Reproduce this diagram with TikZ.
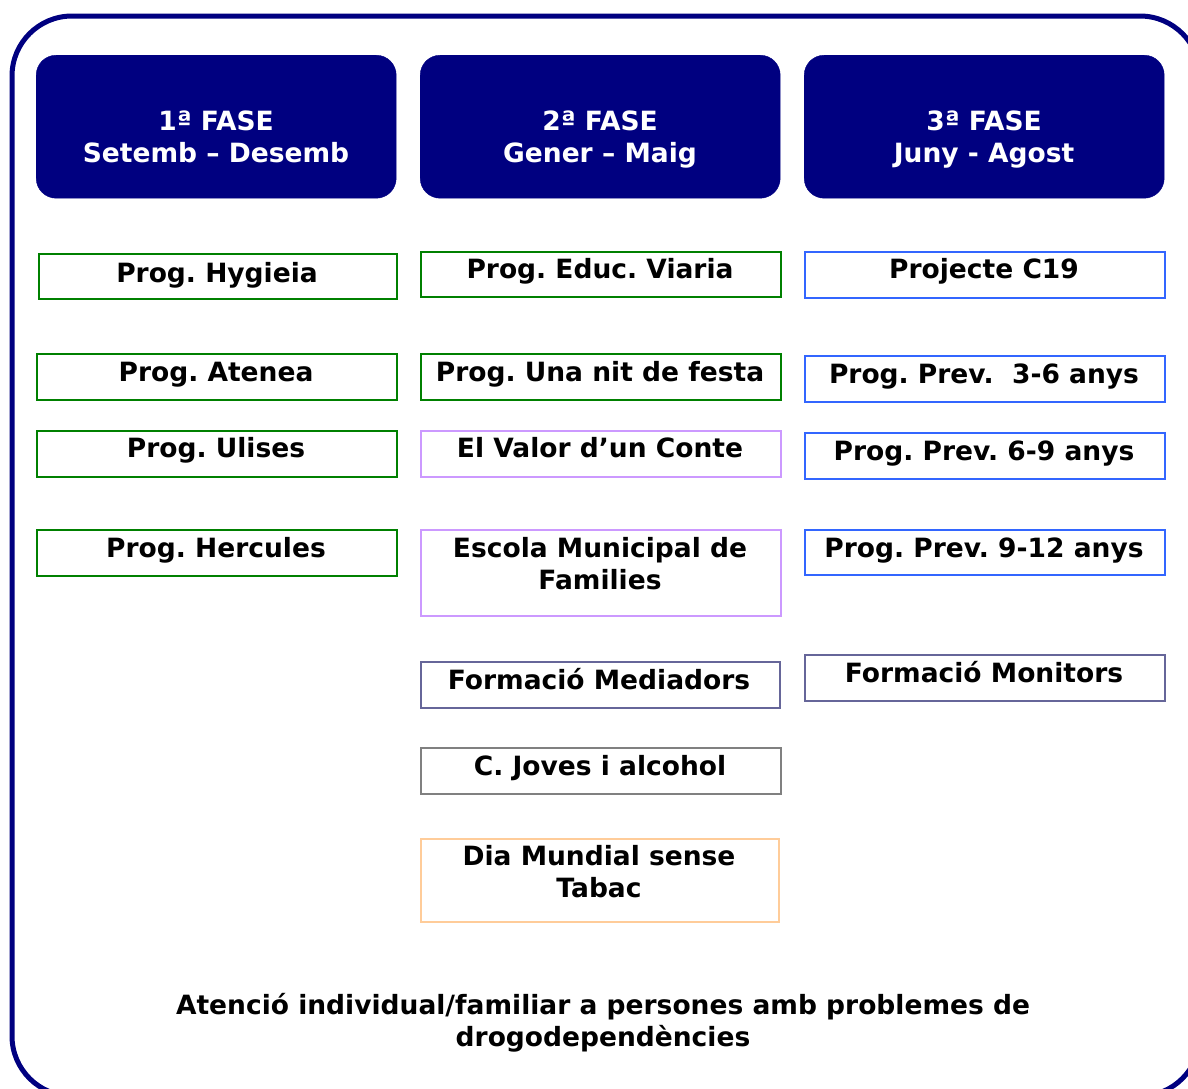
\documentclass[tikz,border=0pt]{standalone}
\usepackage{fontspec}
\setmainfont{DejaVu Sans}
\frenchspacing
\definecolor{navyc}{RGB}{0,0,128}
\definecolor{greenc}{RGB}{0,128,0}
\definecolor{violetc}{RGB}{204,153,255}
\definecolor{bluec}{RGB}{51,102,255}
\definecolor{slatec}{RGB}{102,102,153}
\definecolor{grayc}{RGB}{128,128,128}
\definecolor{orangec}{RGB}{255,204,153}
\tikzset{
  phase/.style={fill=navyc, draw=navyc, rounded corners=20pt, anchor=north west, inner sep=0pt},
  pbox/.style={draw=#1, line width=1.6pt, anchor=north west, inner sep=0pt},
  txt/.style={font=\fontsize{26.5}{31.5}\selectfont\bfseries\frenchspacing, align=center, inner sep=0pt, anchor=base},
  htxt/.style={txt, text=white},
}
\newcommand{\mybox}[6]{%
  \node[pbox=#6, minimum width={#4-#2}, minimum height={#5-#3}] (#1) at (#2,#3) {};}
\begin{document}
\begin{tikzpicture}[x=1pt,y=-1pt]
\useasboundingbox (0,0) rectangle (1188,1088);
\begin{scope}
\clip (0,0) rectangle (1188,1088);
\draw[navyc, line width=5pt, rounded corners=60pt] (12,16) rectangle (1200,1096);
\end{scope}
% phase headers
\node[phase, minimum width=360pt, minimum height=143pt] (f1) at (36,55) {};
\node[phase, minimum width=360pt, minimum height=143pt] (f2) at (420,55) {};
\node[phase, minimum width=360pt, minimum height=143pt] (f3) at (804,55) {};
\node[htxt] (t1) at (216,162) {1ª FASE\\Setemb – Desemb};
\node[htxt] (t2) at (600,162) {2ª FASE\\Gener – Maig};
\node[htxt] (t3) at (984,162) {3ª FASE\\Juny - Agost};
% column 1
\mybox{a1}{38}{253}{396}{298}{greenc}
\mybox{a2}{36}{353}{396}{399}{greenc}
\mybox{a3}{36}{430}{396}{476}{greenc}
\mybox{a4}{36}{529}{396}{575}{greenc}
\node[txt] (la1) at (217,282) {Prog. Hygieia};
\node[txt] (la2) at (216,381) {Prog. Atenea};
\node[txt] (la3) at (216,457) {Prog. Ulises};
\node[txt] (la4) at (216,557) {Prog. Hercules};
% column 2
\mybox{b1}{420}{251}{780}{296}{greenc}
\mybox{b2}{420}{353}{780}{399}{greenc}
\mybox{b3}{420}{430}{780}{476}{violetc}
\mybox{b4}{420}{529}{780}{615}{violetc}
\mybox{b5}{420}{661}{779}{707}{slatec}
\mybox{b6}{420}{747}{780}{793}{grayc}
\mybox{b7}{420}{838}{778}{921}{orangec}
\node[txt] (lb1) at (600,278) {Prog. Educ. Viaria};
\node[txt] (lb2) at (600,381) {Prog. Una nit de festa};
\node[txt] (lb3) at (600,457) {El Valor d’un Conte};
\node[txt] (lb4) at (600,589) {Escola Municipal de\\Families};
\node[txt] (lb5) at (599,689) {Formació Mediadors};
\node[txt] (lb6) at (600,775) {C. Joves i alcohol};
\node[txt] (lb7) at (599,897) {Dia Mundial sense\\Tabac};
% column 3
\mybox{c1}{804}{251}{1164}{297}{bluec}
\mybox{c2}{804}{355}{1164}{401}{bluec}
\mybox{c3}{804}{432}{1164}{478}{bluec}
\mybox{c4}{804}{529}{1164}{574}{bluec}
\mybox{c5}{804}{654}{1164}{700}{slatec}
\node[txt] (lc1) at (984,278) {Projecte C19};
\node[txt] (lc2) at (984,383) {Prog. Prev.\ \ 3-6 anys};
\node[txt] (lc3) at (984,460) {Prog. Prev. 6-9 anys};
\node[txt] (lc4) at (984,557) {Prog. Prev. 9-12 anys};
\node[txt] (lc5) at (984,682) {Formació Monitors};
% bottom
\node[txt] (bot) at (603,1046) {Atenció individual/familiar a persones amb problemes de\\drogodependències};
\end{tikzpicture}
\end{document}
